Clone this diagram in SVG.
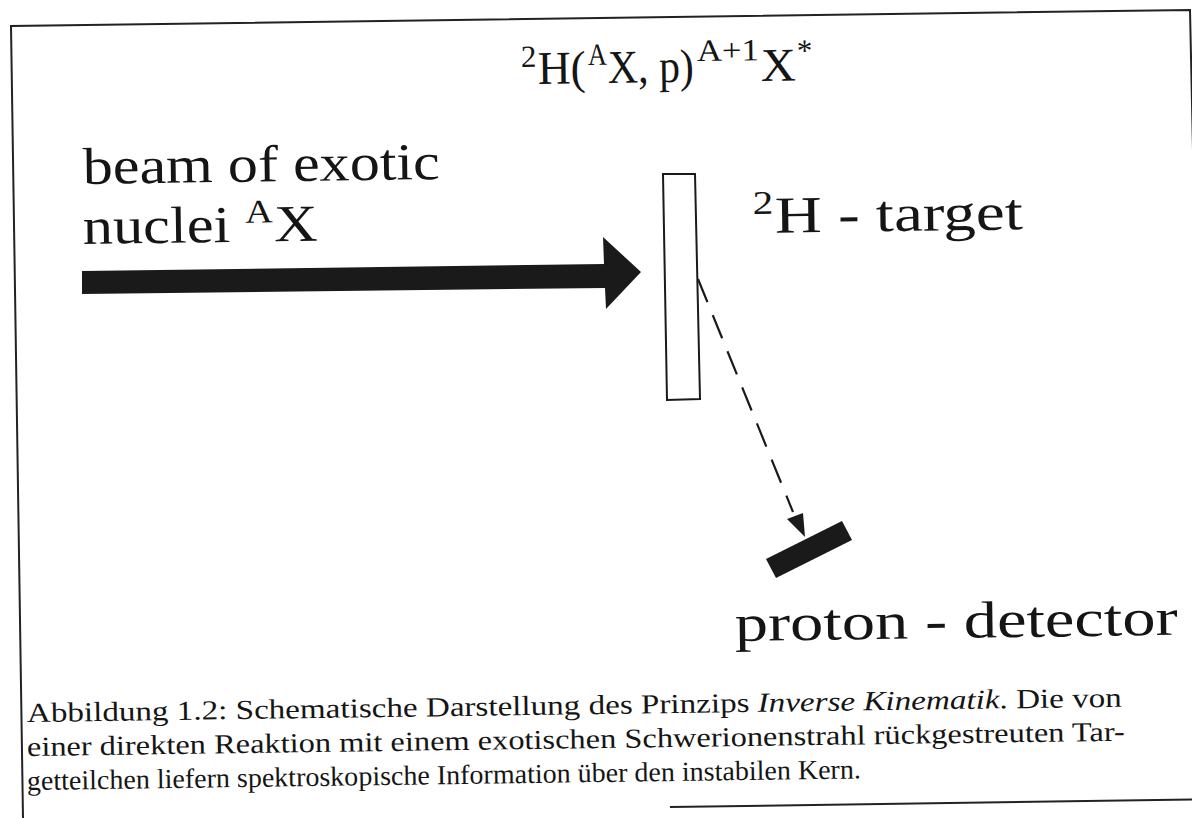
<svg xmlns="http://www.w3.org/2000/svg" width="1192" height="818" viewBox="0 0 1192 818">
<style>
.frame{fill:none;stroke:#222;stroke-width:2}
.lbl{font-family:"Liberation Serif","DejaVu Serif",serif;font-size:52px;fill:#151515}
.sup{font-size:33px}
.t{font-family:"Liberation Serif","DejaVu Serif",serif;font-size:47px;fill:#151515}
.ts{font-family:"Liberation Serif","DejaVu Serif",serif;font-size:31px;fill:#151515}
.cap{font-family:"Liberation Serif","DejaVu Serif",serif;font-size:27.5px;fill:#151515}
.solid{fill:#1a1a1a}
.dash{fill:none;stroke:#1a1a1a;stroke-width:2.2;stroke-dasharray:25 14}
</style>
<rect width="1192" height="818" fill="#ffffff"/>
<g id="frame">
<path class="frame" d="M1193 150 L1190 10 L11 26 L23 818"/>
<path class="frame" d="M670 807 L1192 799.5"/>
</g>
<g id="title">
<text class="ts" x="521" y="67" transform="rotate(-0.8 521 67)">2</text>
<text class="t" x="538" y="84" textLength="48" lengthAdjust="spacingAndGlyphs" transform="rotate(-0.8 538 84)">H(</text>
<text class="ts" x="588" y="65" textLength="19" lengthAdjust="spacingAndGlyphs" transform="rotate(-0.8 588 65)">A</text>
<text class="t" x="608" y="83" textLength="86" lengthAdjust="spacingAndGlyphs" transform="rotate(-0.8 608 83)">X, p)</text>
<text class="ts" x="697" y="61" textLength="62" lengthAdjust="spacingAndGlyphs" transform="rotate(-0.8 697 61)">A+1</text>
<text class="t" x="761" y="81" textLength="35" lengthAdjust="spacingAndGlyphs" transform="rotate(-0.8 761 81)">X</text>
<text class="ts" x="797" y="61" transform="rotate(-0.8 797 61)">*</text>
</g>
<g id="beam">
<text class="lbl" x="83" y="184" textLength="357" lengthAdjust="spacingAndGlyphs" transform="rotate(-0.8 83 184)">beam of exotic</text>
<text class="lbl" x="83" y="244" textLength="235" lengthAdjust="spacingAndGlyphs" transform="rotate(-0.8 83 244)">nuclei <tspan class="sup" dy="-19">A</tspan><tspan dy="19" dx="1">X</tspan></text>
<polygon class="solid" points="82,271 604,264 603,237 641,272 606,309 605,288 82,294"/>
</g>
<g id="target">
<polygon points="663,174 695,174 700,399 667,400" fill="#fff" stroke="#1a1a1a" stroke-width="2"/>
<text class="lbl" x="753" y="233" textLength="270" lengthAdjust="spacingAndGlyphs" transform="rotate(-0.8 753 233)"><tspan class="sup" dy="-19">2</tspan><tspan dy="19" dx="1">H - target</tspan></text>
</g>
<g id="detector">
<polygon class="solid" points="766,559 842,521 852,540 776,578"/>
<text class="lbl" x="735" y="641" textLength="443" lengthAdjust="spacingAndGlyphs" transform="rotate(-0.8 735 641)">proton - detector</text>
</g>
<g id="connectors">
<path class="dash" d="M698 279 L793 512"/>
<polygon class="solid" points="787,519 803,513 805,537"/>
</g>
<g id="caption">
<text class="cap" x="27" y="722" textLength="1095" lengthAdjust="spacingAndGlyphs" transform="rotate(-0.8 27 722)">Abbildung 1.2: Schematische Darstellung des Prinzips <tspan font-style="italic">Inverse Kinematik</tspan>. Die von</text>
<text class="cap" x="27" y="756" textLength="1098" lengthAdjust="spacingAndGlyphs" transform="rotate(-0.8 27 756)">einer direkten Reaktion mit einem exotischen Schwerionenstrahl rückgestreuten Tar-</text>
<text class="cap" x="27" y="790" textLength="834" lengthAdjust="spacingAndGlyphs" transform="rotate(-0.8 27 790)">getteilchen liefern spektroskopische Information über den instabilen Kern.</text>
</g>
</svg>
